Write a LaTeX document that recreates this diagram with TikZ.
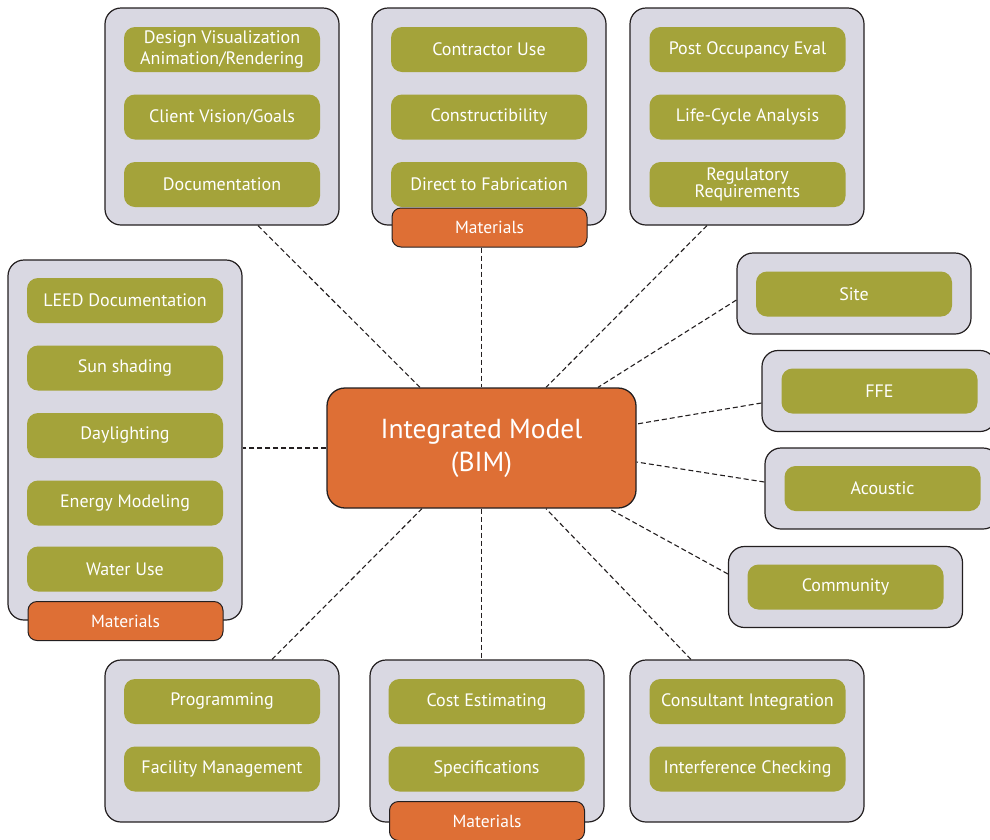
\documentclass[tikz,border=0pt]{standalone}
\usepackage{fontspec}
\setmainfont{PT Sans}
\usepackage{tikz}

\definecolor{boxgray}{RGB}{217,216,226}
\definecolor{pillgreen}{RGB}{164,163,58}
\definecolor{bimorange}{RGB}{222,111,53}
\definecolor{edge}{RGB}{35,31,32}

\begin{document}
\begin{tikzpicture}[x=1pt,y=-1pt,node distance={67.5pt}]
			\tikzstyle{grp}=[rectangle, rounded corners=16pt, draw=edge, line width=1.2pt, fill=boxgray, minimum width=234pt]
			\tikzstyle{pill}=[rectangle, rounded corners=11pt, fill=pillgreen, text=white, minimum width=196pt, minimum height=45pt, inner sep=0pt, align=center, font=\fontsize{18}{20.5}\selectfont]
			\tikzstyle{mat}=[rectangle, rounded corners=9pt, draw=edge, line width=1pt, fill=bimorange, text=white, minimum width=195pt, minimum height=39pt, inner sep=0pt, font=\fontsize{17.5}{18}\selectfont]
			\tikzstyle{link}=[draw=edge, line width=1.1pt, dash pattern=on 5pt off 3pt]

			\clip (0,0) rectangle (990,839);

			% top row
			\node[grp, minimum height=217pt] (design) at (222,116.5) {};
			\node[pill] (d1) at (222,49.5) {Design Visualization\\Animation/Rendering};
			\node[pill] (d2) [below of=d1] {Client Vision/Goals};
			\node[pill] (d3) [below of=d2] {Documentation};

			\node[grp, minimum height=217pt] (contractor) at (489,116.5) {};
			\node[pill] (c1) at (489,49.5) {Contractor Use};
			\node[pill] (c2) [below of=c1] {Constructibility};
			\node[pill] (c3) [below of=c2] {Direct to Fabrication};
			\node[mat] (cmat) at (489.5,227.5) {Materials};

			\node[grp, minimum height=217pt] (post) at (747,116.5) {};
			\node[pill] (o1) at (747.5,49.5) {Post Occupancy Eval};
			\node[pill] (o2) [below of=o1] {Life-Cycle Analysis};
			\node[pill, font=\fontsize{18}{16}\selectfont] (o3) [below of=o2] {Regulatory\\Requirements};

			% left column
			\node[grp, minimum height=360pt] (leed) at (125,440) {};
			\node[pill] (l1) at (125,300.5) {LEED Documentation};
			\node[pill] (l2) [below of=l1] {Sun shading};
			\node[pill] (l3) [below of=l2] {Daylighting};
			\node[pill] (l4) [below of=l3] {Energy Modeling};
			\node[pill] (l5) [below of=l4, node distance=66pt] {Water Use};
			\node[mat] (lmat) at (125.5,621) {Materials};

			% right column
			\node[grp, minimum height=81pt] (site) at (854,293.5) {};
			\node[pill] (s1) at (854,294) {Site};
			\node[grp, minimum height=81pt] (ffe) at (879,391) {};
			\node[pill] (f1) at (879.5,391) {FFE};
			\node[grp, minimum height=81pt] (acoustic) at (882,488.5) {};
			\node[pill] (a1) at (882.5,488.5) {Acoustic};
			\node[grp, minimum height=81pt] (community) at (845.5,587) {};
			\node[pill] (m1) at (845.5,587) {Community};

			% bottom row
			\node[grp, minimum height=162pt] (prog) at (222,741) {};
			\node[pill] (p1) at (222,701.5) {Programming};
			\node[pill] (p2) [below of=p1] {Facility Management};

			\node[grp, minimum height=162pt] (cost) at (487,741) {};
			\node[pill] (e1) at (486.5,701.5) {Cost Estimating};
			\node[pill] (e2) [below of=e1] {Specifications};
			\node[mat] (emat) at (487,821) {Materials};

			\node[grp, minimum height=162pt] (consult) at (747,741) {};
			\node[pill] (n1) at (747.5,701.5) {Consultant Integration};
			\node[pill] (n2) [below of=n1] {Interference Checking};

			% hub
			\node[rectangle, rounded corners=18pt, draw=edge, line width=1.3pt, fill=bimorange, text=white, minimum width=309pt, minimum height=120pt, align=center, font=\fontsize{27.5}{33}\selectfont] (bim) at (481.5,448) {Integrated Model\\(BIM)};

			\draw[link] ([xshift=36pt]design.south) -- ([xshift=-61.5pt]bim.north);
			\draw[link] (cmat.south -| bim.north) -- (bim.north);
			\draw[link] ([xshift=-40pt]post.south) -- ([xshift=64.5pt]bim.north);
			\draw[link] ([yshift=-6.5pt]site.west) -- ([xshift=116.5pt]bim.north);
			\draw[link] ([yshift=-12pt]ffe.west) -- ([yshift=24pt]bim.east);
			\draw[link] ([yshift=6.5pt]acoustic.west) -- ([yshift=-14pt]bim.east);
			\draw[link] ([yshift=13pt]community.west) -- ([xshift=127.5pt]bim.south);
			\draw[link] ([xshift=-56pt]consult.north) -- ([xshift=64.5pt]bim.south);
			\draw[link] (bim.south) -- (bim.south |- cost.north);
			\draw[link] ([xshift=50pt]prog.north) -- ([xshift=-59.5pt]bim.south);
			\draw[link] (bim.west) -- (bim.west -| leed.east);
		\end{tikzpicture}
\end{document}
